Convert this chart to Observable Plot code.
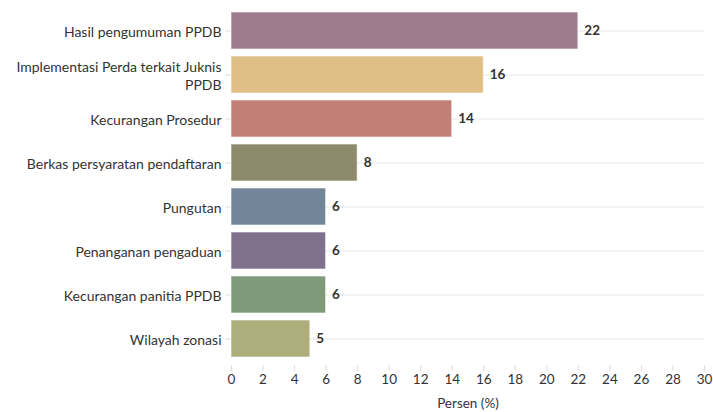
<!DOCTYPE html>
<html>
<head>
<meta charset="utf-8">
<script src="https://cdn.jsdelivr.net/npm/d3@7"></script>
<script src="https://cdn.jsdelivr.net/npm/@observablehq/plot@0.6"></script>
<style>
  html, body { margin: 0; padding: 0; background: #fff; }
  #chart svg { display: block; }
</style>
</head>
<body>
<div id="chart"></div>
<script>
const categories = [
  "Hasil pengumuman PPDB",
  "Implementasi Perda terkait Juknis PPDB",
  "Kecurangan Prosedur",
  "Berkas persyaratan pendaftaran",
  "Pungutan",
  "Penanganan pengaduan",
  "Kecurangan panitia PPDB",
  "Wilayah zonasi"
];
const values = [22, 16, 14, 8, 6, 6, 6, 5];
const colors = ["#9e7b8f", "#e0bf87", "#c17f76", "#8c8a6a", "#72869a", "#7f718d", "#7e9a78", "#aead7c"];
const xTicks = d3.range(0, 31, 2);
const xLabel = "Persen (%)";
const wrapped = {"Implementasi Perda terkait Juknis PPDB": "Implementasi Perda terkait Juknis\nPPDB"};

const data = categories.map((c, i) => ({category: c, value: values[i], color: colors[i]}));

const chart = Plot.plot({
  width: 713,
  height: 412,
  marginLeft: 231,
  marginRight: 9,
  marginTop: 3,
  marginBottom: 47,
  style: {fontFamily: "Lato, 'Noto Sans', sans-serif", fontSize: "13px", color: "#333", background: "#fff"},
  x: {domain: [0, 30], ticks: xTicks},
  y: {domain: categories, padding: 0.17},
  marks: [
    Plot.gridY({stroke: "#e6e6e6", strokeOpacity: 1, x1: 0, x2: 30}),
    Plot.axisY({tickSize: 6, tickPadding: 4, stroke: "#ddd", fill: "#333", fontSize: 14, lineHeight: 1.3, label: null,
      tickFormat: d => wrapped[d] ?? d}),
    Plot.axisX({ticks: xTicks, tickSize: 6, tickPadding: 3, stroke: "#ddd", fill: "#333", fontSize: 13.5,
      label: xLabel, labelAnchor: "center", labelArrow: "none", labelOffset: 42}),
    Plot.barX(data, {x: "value", y: "category", fill: d => d.color, stroke: "#fff", strokeOpacity: 0.6, strokeWidth: 1}),
    Plot.text(data, {x: "value", y: "category", text: d => String(d.value), textAnchor: "start", dx: 6, fontWeight: "bold", fill: "#333", fontSize: 13.5})
  ]
});
document.getElementById("chart").appendChild(chart);
</script>
</body>
</html>
